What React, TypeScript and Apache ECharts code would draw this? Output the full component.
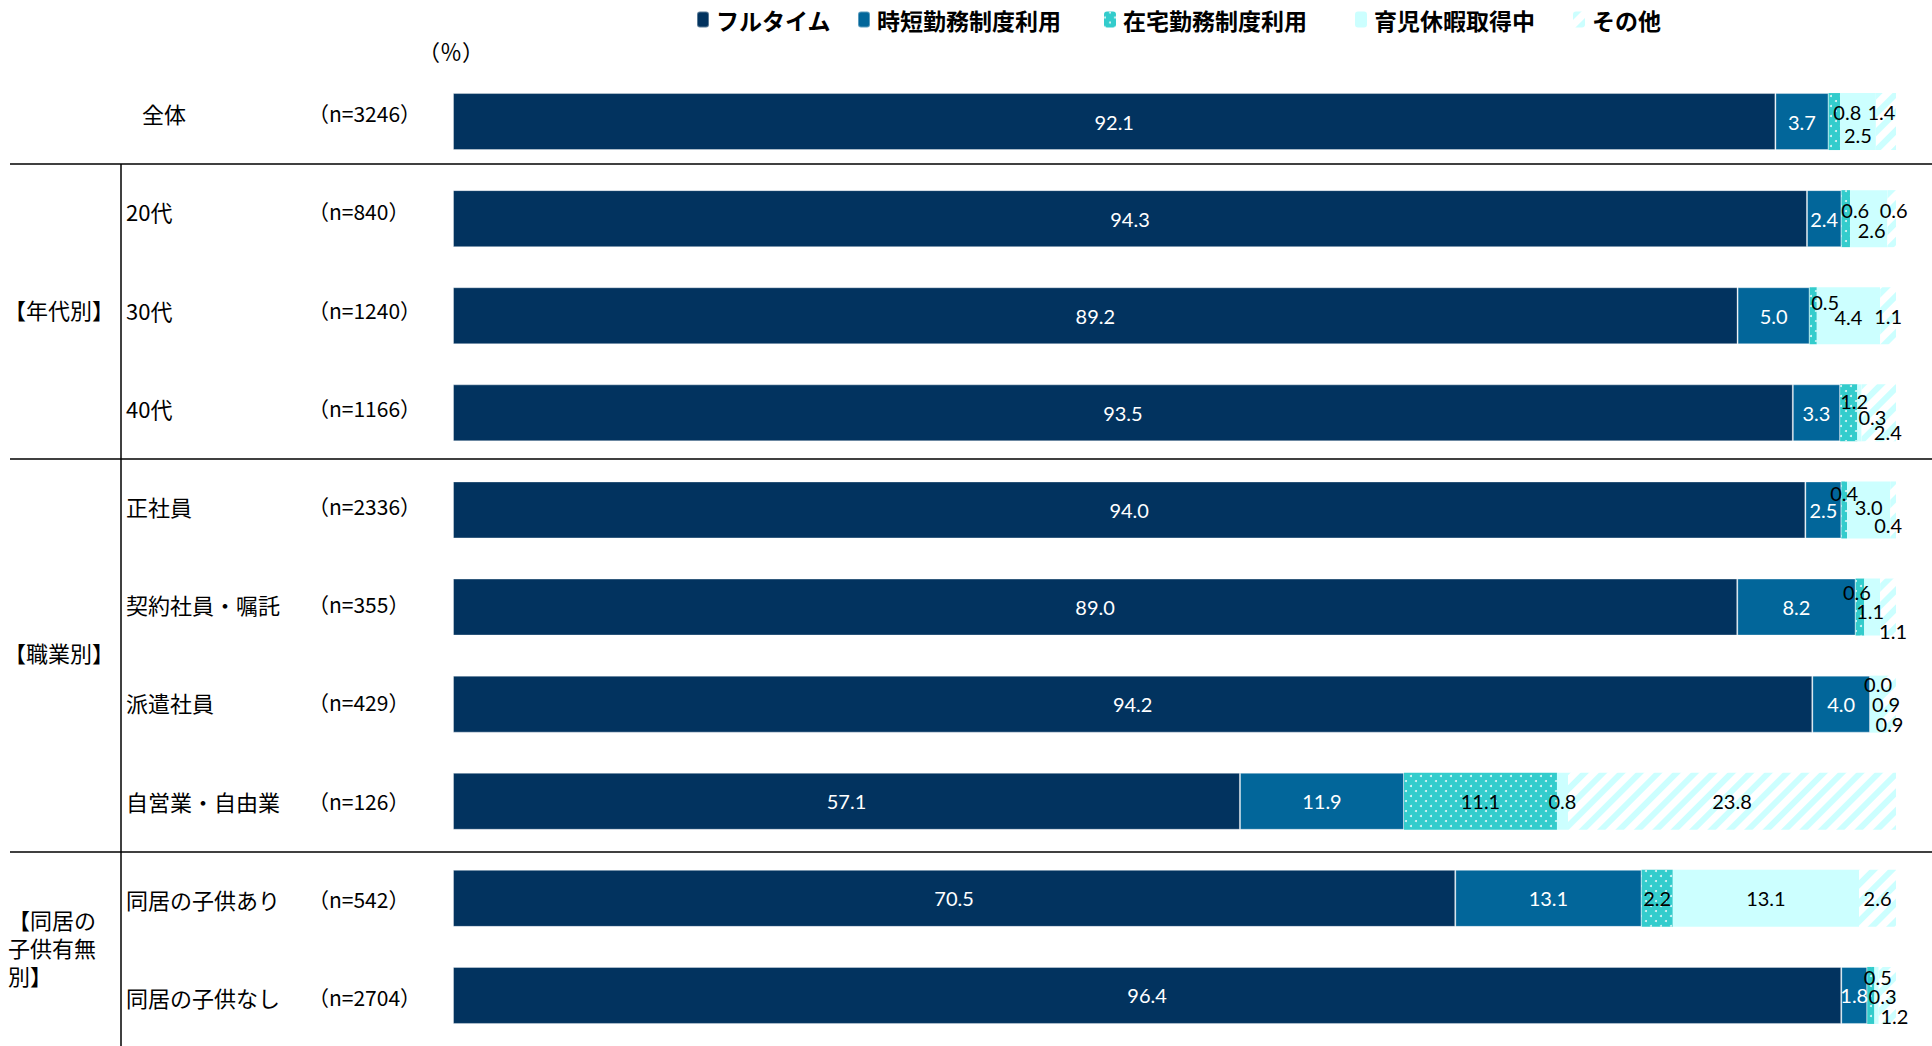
import React, { useEffect, useRef } from 'react';
import * as echarts from 'echarts';

// ---- data ----
const categories = ['全体', '20代', '30代', '40代', '正社員', '契約社員・嘱託', '派遣社員', '自営業・自由業', '同居の子供あり', '同居の子供なし'];
const sampleSizes = ['（n=3246）', '（n=840）', '（n=1240）', '（n=1166）', '（n=2336）', '（n=355）', '（n=429）', '（n=126）', '（n=542）', '（n=2704）'];
const seriesNames = ['フルタイム', '時短勤務制度利用', '在宅勤務制度利用', '育児休暇取得中', 'その他'];
const fullTime = [92.1, 94.3, 89.2, 93.5, 94.0, 89.0, 94.2, 57.1, 70.5, 96.4];
const shortHours = [3.7, 2.4, 5.0, 3.3, 2.5, 8.2, 4.0, 11.9, 13.1, 1.8];
const remote = [0.8, 0.6, 0.5, 1.2, 0.4, 0.6, 0.0, 11.1, 2.2, 0.5];
const childLeave = [2.5, 2.6, 4.4, 0.3, 3.0, 1.1, 0.9, 0.8, 13.1, 0.3];
const other = [1.4, 0.6, 1.1, 2.4, 0.4, 1.1, 0.9, 23.8, 2.6, 1.2];
const groupLabels = ['【年代別】', '【職業別】', '【同居の\n子供有無\n別】'];

// ---- styling (label nudges for narrow segments, px) ----
const labelNudges: Record<number, number[][]> = {
  2: [[13, -10], [9.5, -8.5], [12, -13.5], [5.5, -12], [0, -16.5], [-3, -15], [8, -20.5], [0, 0], [0, 0], [7, -18]],
  3: [[0, 13.5], [3, 11.5], [0, 1.5], [13, 4.5], [0, -3], [-2, 4], [9.5, 0], [0, 0], [0, 0], [6, 1]],
  4: [[-4.5, -10], [2, -8.5], [0, 0], [9, 19.5], [-5, 15.5], [5, 23.5], [0, 19.5], [0, 0], [0, 0], [7, 21]],
};

const JP = '"Noto Sans CJK JP", "Noto Sans", sans-serif';
const NUM = 'Lato, "Noto Sans", sans-serif';

export default function App() {
  const ref = useRef<HTMLDivElement>(null);
  useEffect(() => {
    const chart = echarts.init(ref.current!, null, { renderer: 'svg' });
    const values = [fullTime, shortHours, remote, childLeave, other];
    const totals = categories.map((_, i) => values.reduce((s, arr) => s + arr[i], 0));
    const colors = ['#02335F', '#02669A', '#33CCCC', '#CCFFFF', '#FFFFFF'];
    const decals: any[] = [
      null,
      null,
      {
        symbol: 'circle',
        symbolSize: 1,
        color: 'rgba(255,255,255,0.85)',
        dashArrayX: [[2, 8], [0, 5, 2, 3]],
        dashArrayY: [2, 3],
        rotation: 0,
      },
      null,
      {
        symbol: 'rect',
        symbolSize: 1,
        color: '#CCFFFF',
        dashArrayX: [1, 0],
        dashArrayY: [6, 7],
        rotation: -Math.PI / 4,
      },
    ];

    const series = values.map((arr, si) => ({
      name: seriesNames[si],
      type: 'bar',
      stack: 'total',
      xAxisIndex: 0,
      yAxisIndex: 0,
      barWidth: 57,
      itemStyle: {
        color: colors[si],
        borderColor: si < 2 ? 'rgba(255,255,255,0.35)' : 'transparent',
        borderWidth: si < 2 ? 1 : 0,
        decal: decals[si] || undefined,
      },
      label: {
        show: true,
        position: 'inside',
        fontFamily: NUM,
        fontSize: 20,
        color: si < 2 ? '#FFFFFF' : '#000000',
        formatter: (p: any) => arr[p.dataIndex].toFixed(1),
      },
      data: arr.map((v, i) => ({
        value: (v / totals[i]) * 100,
        label: labelNudges[si] ? { offset: labelNudges[si][i] } : undefined,
      })),
    }));

    const legendX = [696, 857, 1104, 1355, 1573];
    const legends = seriesNames.map((n, i) => ({
      data: [n],
      left: legendX[i],
      top: 8,
      padding: 0,
      itemWidth: 12,
      itemHeight: 16,
      itemGap: 0,
      selectedMode: false,
      textStyle: { fontFamily: JP, fontSize: 23, fontWeight: 'bold', color: '#000', padding: [0, 0, 0, 2] },
    }));

    const sep = (y: number) => ({
      type: 'line',
      shape: { x1: 10, y1: y, x2: 1932, y2: y },
      style: { stroke: '#000', lineWidth: 1.5 },
    });

    const hiddenAxis = {
      axisLine: { show: false },
      axisTick: { show: false },
      splitLine: { show: false },
    };

    chart.setOption({
      animation: false,
      legend: legends,
      grid: [
        { left: 453, right: 36, top: 73, bottom: 2, containLabel: false },
        { left: 453, right: 36, top: 64, bottom: -3, containLabel: false },
      ],
      xAxis: [
        { type: 'value', min: 0, max: 100, show: false, gridIndex: 0 },
        { type: 'value', min: 0, max: 100, show: false, gridIndex: 1 },
      ],
      yAxis: [
        {
          type: 'category',
          gridIndex: 0,
          data: categories,
          inverse: true,
          ...hiddenAxis,
          axisLabel: { show: false },
        },
        {
          type: 'category',
          gridIndex: 1,
          data: categories,
          inverse: true,
          ...hiddenAxis,
          axisLabel: {
            interval: 0,
            align: 'left',
            margin: 327,
            fontFamily: JP,
            fontSize: 22,
            color: '#000',
            formatter: (v: string) => (v === '全体' ? `{c|${v}}` : v),
            rich: { c: { padding: [0, 0, 0, 16], fontFamily: JP, fontSize: 22, color: '#000' } },
          },
        },
        {
          type: 'category',
          gridIndex: 1,
          data: sampleSizes,
          inverse: true,
          position: 'left',
          ...hiddenAxis,
          axisLabel: {
            interval: 0,
            align: 'left',
            margin: 145,
            fontFamily: JP,
            fontSize: 21,
            color: '#000',
          },
        },
      ],
      graphic: [
        sep(164),
        sep(459),
        sep(852),
        {
          type: 'line',
          shape: { x1: 121, y1: 164, x2: 121, y2: 1046 },
          style: { stroke: '#000', lineWidth: 1.5 },
        },
        {
          type: 'text',
          x: 418,
          y: 50,
          style: { text: '（％）', fontFamily: JP, fontSize: 22, fill: '#000', verticalAlign: 'middle' },
        },
        {
          type: 'text',
          x: 4,
          y: 309,
          style: { text: groupLabels[0], fontFamily: JP, fontSize: 22, fill: '#000', verticalAlign: 'middle' },
        },
        {
          type: 'text',
          x: 4,
          y: 652,
          style: { text: groupLabels[1], fontFamily: JP, fontSize: 22, fill: '#000', verticalAlign: 'middle' },
        },
        {
          type: 'text',
          x: 8,
          y: 947,
          style: {
            text: groupLabels[2],
            fontFamily: JP,
            fontSize: 22,
            lineHeight: 28,
            fill: '#000',
            verticalAlign: 'middle',
          },
        },
      ],
      series,
    } as any);
    return () => chart.dispose();
  }, []);
  return (
    <div
      ref={ref}
      style={{ position: 'absolute', left: 0, top: 0, width: 1932, height: 1046, background: '#fff' }}
    />
  );
}
